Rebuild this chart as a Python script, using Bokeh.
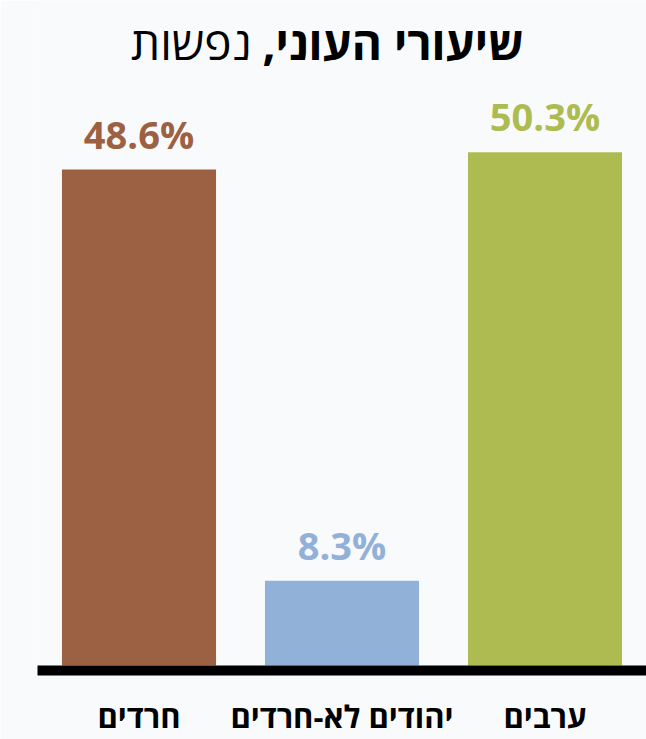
from bokeh.plotting import figure
from bokeh.models import ColumnDataSource, FactorRange, Range1d, Label
from bokeh.core.properties import value
from bokeh.embed import file_html
from bokeh.resources import INLINE

categories = ["חרדים", "יהודים לא-חרדים", "ערבים"]
rates = [48.6, 8.3, 50.3]
rate_labels = ["48.6%", "8.3%", "50.3%"]
colors = ["#9B6142", "#92B1D9", "#AEBB50"]
title_bold = "שיעורי העוני,\u200F"
title_regular = "נפשות"

BG = "#F9FAFC"
FONT = "Open Sans"

src = ColumnDataSource(dict(cat=categories, val=rates, lab=rate_labels, col=colors))

p = figure(width=646, height=739, output_backend="svg", toolbar_location=None,
           x_range=FactorRange(*categories, range_padding=0),
           y_range=Range1d(-0.489, 65.17))
p.min_border_left = 37
p.min_border_right = 0
p.min_border_top = 0
p.min_border_bottom = 68
p.background_fill_color = BG
p.border_fill_color = BG
p.outline_line_color = None
p.grid.visible = False
p.yaxis.visible = False

p.vbar(x="cat", top="val", bottom=0, width=0.759, fill_color="col", line_color=None, source=src)
p.text(x="cat", y="val", text="lab", text_color="col", source=src,
       text_align="center", text_baseline="alphabetic", y_offset=-36,
       text_font=value(FONT), text_font_style="bold", text_font_size="38px")

ax = p.xaxis[0]
ax.axis_line_color = "black"
ax.axis_line_width = 10
ax.major_tick_line_color = None
ax.minor_tick_line_color = None
ax.major_tick_out = 0
ax.major_tick_in = 0
ax.major_label_standoff = 24
ax.major_label_text_font = FONT
ax.major_label_text_font_style = "bold"
ax.major_label_text_font_size = "31px"
ax.major_label_text_color = "black"

p.add_layout(Label(x=1.108, y=61.1, text=title_bold,
                   text_align="left", text_baseline="alphabetic", text_font=FONT,
                   text_font_style="bold", text_font_size="46px", text_color="black"))
p.add_layout(Label(x=1.054, y=61.1, text=title_regular,
                   text_align="right", text_baseline="alphabetic", text_font=FONT,
                   text_font_style="normal", text_font_size="46px", text_color="black"))

open("out.html", "w").write(file_html(p, INLINE))
